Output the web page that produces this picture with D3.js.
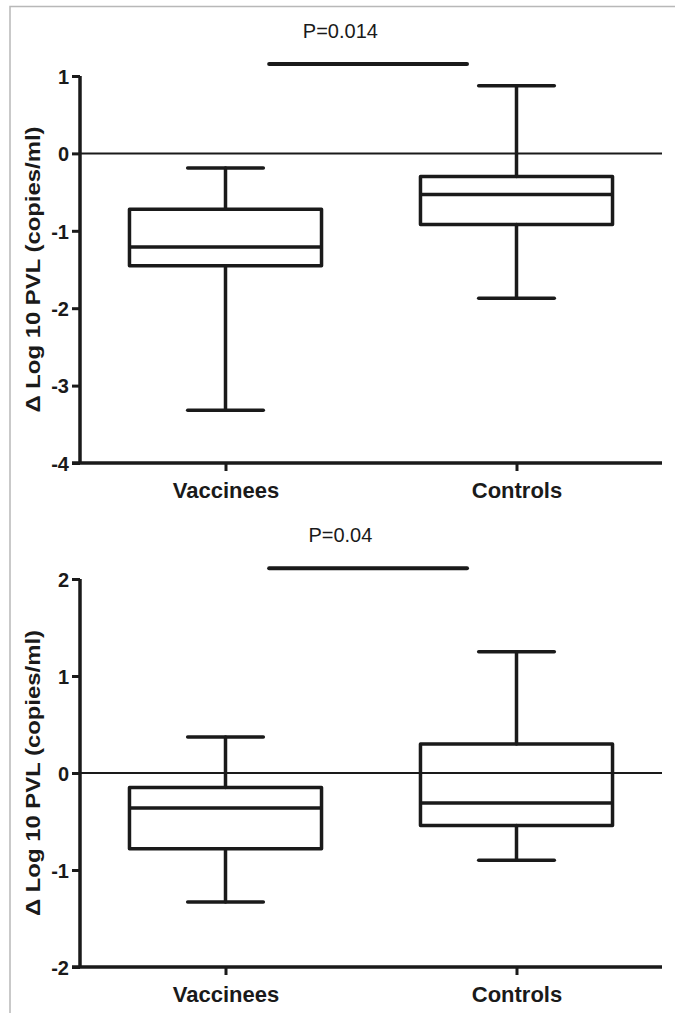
<!DOCTYPE html>
<html>
<head>
<meta charset="utf-8">
<script src="https://cdn.jsdelivr.net/npm/d3@7"></script>
<style>
  body { margin: 0; background: #fff; }
  svg { display: block; font-family: "Liberation Sans", Arial, sans-serif; }
</style>
</head>
<body>
<svg id="fig" width="675" height="1013"></svg>
<script>
// dados
const grupos = ["Vaccinees", "Controls"];

// painel de cima
const topoMin = [-3.32, -1.87];
const topoQ1 = [-1.45, -0.92];
const topoMediana = [-1.21, -0.53];
const topoQ3 = [-0.72, -0.30];
const topoMax = [-0.19, 0.875];
const topoTicks = [1, 0, -1, -2, -3, -4];
const topoP = "P=0.014";
const topoBarra = 1.155;

// painel de baixo
const baixoMin = [-1.33, -0.9];
const baixoQ1 = [-0.78, -0.54];
const baixoMediana = [-0.36, -0.31];
const baixoQ3 = [-0.15, 0.30];
const baixoMax = [0.37, 1.25];
const baixoTicks = [2, 1, 0, -1, -2];
const baixoP = "P=0.04";
const baixoBarra = 2.11;

const tituloY = "\u0394 Log 10 PVL (copies/ml)";

const svg = d3.select("#fig");

// moldura cinza (topo e esquerda)
svg.append("path")
    .attr("d", "M10,1013 L10,6.5 L675,6.5")
    .attr("fill", "none")
    .attr("stroke", "#b8b8b8")
    .attr("stroke-width", 1.5);

const x = d3.scalePoint().domain(grupos).range([80, 662]).padding(0.5);

function painel(cfg) {
    const g = svg.append("g");
    const y = d3.scaleLinear().domain([cfg.ticks[cfg.ticks.length - 1], cfg.ticks[0]]).range([cfg.y1, cfg.y0]);

    // linha do zero
    g.append("line")
        .attr("x1", 80).attr("x2", 662)
        .attr("y1", y(0)).attr("y2", y(0))
        .attr("stroke", "#1a1a1a")
        .attr("stroke-width", 2);

    // eixo Y (hífen normal nos negativos, como no original)
    const eixoY = g.append("g")
        .attr("transform", "translate(80,0)")
        .call(d3.axisLeft(y).tickValues(cfg.ticks).tickSize(8).tickPadding(3).tickFormat(d => String(d)));
    eixoY.select(".domain").attr("stroke", "#1a1a1a").attr("stroke-width", 3.5)
        .attr("d", `M0,${cfg.y0}V${cfg.y1}`);
    eixoY.selectAll(".tick line").attr("stroke", "#1a1a1a").attr("stroke-width", 3);
    eixoY.selectAll(".tick text")
        .attr("fill", "#1a1a1a")
        .style("font-size", "20px")
        .style("font-weight", "bold")
        .attr("dy", "0.36em");

    // eixo X
    const eixoX = g.append("g")
        .attr("transform", `translate(0,${cfg.y1})`)
        .call(d3.axisBottom(x).tickSize(8).tickPadding(8));
    eixoX.select(".domain").attr("stroke", "#1a1a1a").attr("stroke-width", 3.5)
        .attr("d", "M72,0H662");
    eixoX.selectAll(".tick line").attr("stroke", "#1a1a1a").attr("stroke-width", 3);
    eixoX.selectAll(".tick text")
        .attr("fill", "#1a1a1a")
        .style("font-size", "22px")
        .style("font-weight", "bold")
        .attr("dy", "0.88em");

    // título do eixo Y
    const meio = (cfg.y0 + cfg.y1) / 2;
    g.append("text")
        .attr("transform", `translate(40,${meio}) rotate(-90)`)
        .attr("text-anchor", "middle")
        .attr("textLength", 286)
        .attr("lengthAdjust", "spacingAndGlyphs")
        .attr("fill", "#1a1a1a")
        .style("font-size", "21px")
        .style("font-weight", "bold")
        .text(tituloY);

    // caixas
    const meiaLarg = x.step() * 0.33;
    const meiaTampa = x.step() * 0.13;
    grupos.forEach((grp, i) => {
        const cx = x(grp);
        const traco = (x1, y1, x2, y2) => g.append("line")
            .attr("x1", x1).attr("y1", y1).attr("x2", x2).attr("y2", y2)
            .attr("stroke", "#1a1a1a").attr("stroke-width", 3.5)
            .attr("stroke-linecap", "round");
        // bigodes
        traco(cx, y(cfg.max[i]), cx, y(cfg.q3[i]));
        traco(cx, y(cfg.q1[i]), cx, y(cfg.min[i]));
        traco(cx - meiaTampa, y(cfg.max[i]), cx + meiaTampa, y(cfg.max[i]));
        traco(cx - meiaTampa, y(cfg.min[i]), cx + meiaTampa, y(cfg.min[i]));
        // caixa
        g.append("rect")
            .attr("x", cx - meiaLarg)
            .attr("y", y(cfg.q3[i]))
            .attr("width", meiaLarg * 2)
            .attr("height", y(cfg.q1[i]) - y(cfg.q3[i]))
            .attr("fill", "none")
            .attr("stroke", "#1a1a1a")
            .attr("stroke-width", 3.5)
            .attr("stroke-linejoin", "round");
        // mediana
        g.append("line")
            .attr("x1", cx - meiaLarg).attr("x2", cx + meiaLarg)
            .attr("y1", y(cfg.med[i])).attr("y2", y(cfg.med[i]))
            .attr("stroke", "#1a1a1a").attr("stroke-width", 3.5);
    });

    // barra de significância e valor P
    const bx1 = x(grupos[0]) + x.step() * 0.15;
    const bx2 = x(grupos[1]) - x.step() * 0.17;
    g.append("line")
        .attr("x1", bx1).attr("x2", bx2)
        .attr("y1", y(cfg.barra)).attr("y2", y(cfg.barra))
        .attr("stroke", "#1a1a1a").attr("stroke-width", 4)
        .attr("stroke-linecap", "round");
    g.append("text")
        .attr("x", bx1 + (bx2 - bx1) * 0.36)
        .attr("y", y(cfg.barra) - 26)
        .attr("text-anchor", "middle")
        .attr("fill", "#1a1a1a")
        .style("font-size", "20px")
        .text(cfg.p);
}

painel({ y0: 76, y1: 463, ticks: topoTicks, min: topoMin, q1: topoQ1, med: topoMediana,
         q3: topoQ3, max: topoMax, p: topoP, barra: topoBarra });
painel({ y0: 579, y1: 967, ticks: baixoTicks, min: baixoMin, q1: baixoQ1, med: baixoMediana,
         q3: baixoQ3, max: baixoMax, p: baixoP, barra: baixoBarra });
</script>
</body>
</html>
